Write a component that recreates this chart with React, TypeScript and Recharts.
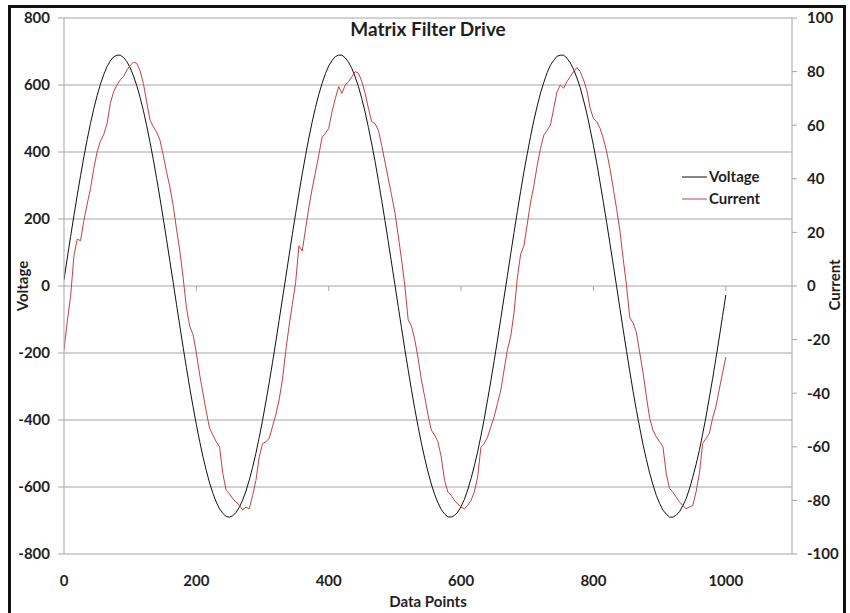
import React from 'react';
import { LineChart, Line, XAxis, YAxis, CartesianGrid, Legend, ReferenceLine } from 'recharts';

// Sampling step of the "Data Points" index
const sampleStep = 5;

// Voltage (left axis), every 5 data points
const voltageCycle1 = [
  19, 84, 148, 210, 271, 329, 385, 437, 485, 529,
  568, 602, 631, 655, 672, 684, 689, 689, 682, 670,
  651, 627, 598, 563, 523, 478, 429, 377, 321, 262,
  201, 138, 74, 10, -55, -119, -183, -244, -304, -360,
  -414, -464, -510, -551, -588, -619, -645, -665, -679, -688,
  -690, -686, -676, -660, -639, -612, -579, -541, -499, -452,
  -401, -346, -289, -229, -167, -103, -39,
];
const voltageCycle2 = [
  25, 90, 154, 216, 277, 335, 390, 442, 490, 533,
  572, 605, 634, 657, 673, 685, 689, 689, 681, 668,
  649, 624, 595, 559, 519, 473, 424, 372, 315, 256,
  195, 132, 68, 4, -61, -125, -189, -250, -310, -366,
  -419, -469, -514, -555, -591, -622, -647, -667, -680, -689,
  -690, -685, -675, -658, -637, -609, -575, -537, -495, -447,
  -396, -340, -283, -223, -161, -97, -33,
];
const voltageCycle3 = [
  31, 96, 160, 222, 283, 341, 395, 447, 495, 537,
  576, 608, 637, 659, 674, 686, 689, 689, 680, 666,
  647, 621, 592, 555, 515, 468, 419, 367, 309, 250,
  189, 126, 62, -2, -67, -131, -195, -256, -316, -372,
  -424, -474, -518, -559, -594, -625, -649, -669, -681, -690,
  -690, -684, -674, -656, -635, -606, -571, -533, -491, -442,
  -391, -334, -277, -217, -155, -91, -27,
];

// Current (right axis), every 5 data points
const currentCycle1 = [
  -24.0, -13.1, -3.8, 11.3, 17.5, 16.9, 24.4, 30.6, 36.3, 43.8,
  50.0, 54.0, 56.5, 60.6, 68.1, 72.5, 75.0, 76.9, 78.1, 80.6,
  82.3, 83.5, 83.1, 80.3, 75.5, 68.6, 61.9, 59.4, 57.5, 54.4,
  48.8, 42.5, 36.9, 30.0, 21.3, 13.1, 3.1, -8.1, -15.0, -18.1,
  -25.0, -33.1, -40.0, -46.9, -53.1, -55.6, -58.1, -60.0, -70.0, -76.3,
  -77.5, -79.4, -80.6, -81.9, -83.5, -82.5, -83.1, -78.1, -72.5, -63.8,
  -58.8, -58.1, -56.9, -52.5, -48.1, -42.5, -35.0, -24.4,
];
const currentCycle2 = [
  -15.0, -6.9, 1.3, 15.0, 13.1, 21.3, 29.4, 36.3, 42.5, 48.8,
  55.6, 56.9, 58.8, 65.0, 70.0, 74.4, 71.9, 75.0, 76.3, 78.1,
  80.0, 79.4, 76.3, 71.9, 66.3, 61.3, 60.6, 58.1, 52.5, 46.3,
  40.0, 33.8, 27.5, 18.8, 10.0, 0.0, -12.5, -15.0, -20.0, -26.9,
  -35.0, -41.3, -48.1, -53.8, -55.6, -58.1, -63.8, -72.5, -76.9, -78.1,
  -80.0, -81.3, -82.5, -83.1, -81.9, -80.0, -76.9, -71.3, -60.0, -58.8,
  -56.3, -52.5, -48.8, -43.8, -38.8, -31.3, -23.8, -18.8, -10.0, 3.1,
];
const currentCycle3 = [
  11.9, 15.0, 23.1, 31.3, 37.5, 45.0, 51.3, 56.3, 58.1, 60.0,
  66.3, 72.5, 75.0, 73.8, 76.3, 78.1, 80.0, 81.5, 80.0, 76.9,
  73.1, 66.3, 62.5, 61.3, 58.8, 55.0, 50.0, 43.8, 36.3, 28.8,
  20.6, 10.0, 0.0, -11.9, -13.8, -17.5, -25.0, -32.5, -41.3, -49.4,
  -53.8, -56.3, -58.1, -60.0, -70.0, -75.6, -76.9, -78.8, -80.6, -81.9,
  -83.1, -82.5, -81.9, -76.9, -70.0, -58.8, -56.9, -55.0, -49.4, -45.0,
  -38.8, -32.5, -26.5,
];

const voltage = [...voltageCycle1, ...voltageCycle2, ...voltageCycle3];
const current = [...currentCycle1, ...currentCycle2, ...currentCycle3];

const xTicks = [0, 200, 400, 600, 800, 1000];
const xDomain = [0, 1100];
const voltageTicks = [-800, -600, -400, -200, 0, 200, 400, 600, 800];
const currentTicks = [-100, -80, -60, -40, -20, 0, 20, 40, 60, 80, 100];
const seriesOrder = ['Voltage', 'Current'];

const title = 'Matrix Filter Drive';
const xTitle = 'Data Points';
const leftTitle = 'Voltage';
const rightTitle = 'Current';

const data = voltage.map((v, i) => ({ t: i * sampleStep, voltage: v, current: current[i] }));

const FONT = 'Lato, "Open Sans", "DejaVu Sans", sans-serif';
const TEXT = '#1f1f1f';
const AXIS = '#a6a6a6';
const GRID = '#c3c3c3';
const VOLT = '#111111';
const CURR = '#c4403d';

const tickStyle = { fontFamily: FONT, fontSize: 15, fontWeight: 700, fill: TEXT };

const renderLegend = (props: any) => {
  const payload = [...(props.payload || [])].sort(
    (a: any, b: any) => seriesOrder.indexOf(a.value) - seriesOrder.indexOf(b.value)
  );
  return (
    <svg width={100} height={46} style={{ display: 'block' }}>
      {payload.map((p: any, i: number) => (
        <g key={p.value}>
          <line x1={0} x2={25} y1={11 + i * 22} y2={11 + i * 22} stroke={p.color} strokeWidth={1} />
          <text
            x={27}
            y={11 + i * 22}
            dy="0.36em"
            fontFamily={FONT}
            fontSize={15}
            fontWeight={700}
            fill={TEXT}
          >
            {p.value}
          </text>
        </g>
      ))}
    </svg>
  );
};

export default function App() {
  return (
    <div
      style={{
        position: 'absolute',
        left: 0,
        top: 0,
        width: 850,
        height: 613,
        overflow: 'hidden',
        background: '#fff',
      }}
    >
      <div
        style={{
          position: 'absolute',
          left: 8,
          top: 5,
          width: 838,
          height: 700,
          border: '3px solid #111',
          boxSizing: 'border-box',
        }}
      />
      <div style={{ position: 'absolute', left: 0, top: 0 }}>
        <LineChart width={850} height={613} data={data} margin={{ top: 18, right: 0, bottom: 0, left: 0 }}>
          <CartesianGrid yAxisId="left" vertical={false} horizontal stroke={GRID} strokeWidth={1.5} />
          <XAxis
            dataKey="t"
            type="number"
            domain={xDomain}
            ticks={xTicks}
            height={59}
            axisLine={false}
            tickLine={false}
            tickSize={6}
            tickMargin={15}
            tick={tickStyle}
            allowDataOverflow
          />
          <YAxis
            yAxisId="left"
            orientation="left"
            width={64}
            domain={[-800, 800]}
            ticks={voltageTicks}
            axisLine={{ stroke: AXIS }}
            tickLine={{ stroke: AXIS }}
            tickSize={6}
            tickMargin={8}
            tick={tickStyle}
            allowDataOverflow
          />
          <YAxis
            yAxisId="right"
            orientation="right"
            width={58}
            domain={[-100, 100]}
            ticks={currentTicks}
            axisLine={{ stroke: AXIS }}
            tickLine={{ stroke: AXIS }}
            tickSize={5}
            tickMargin={10}
            tick={tickStyle}
            allowDataOverflow
          />
          {xTicks
            .filter((v) => v > 0)
            .map((v) => (
              <ReferenceLine
                key={`zt-${v}`}
                yAxisId="left"
                segment={[
                  { x: v, y: 0 },
                  { x: v, y: 0 },
                ]}
                shape={(p: any) => (
                  <line x1={p.x1} y1={p.y1} x2={p.x1} y2={p.y1 + 5} stroke={AXIS} strokeWidth={1} />
                )}
              />
            ))}
          <Line
            yAxisId="left"
            type="linear"
            dataKey="voltage"
            name="Voltage"
            stroke={VOLT}
            strokeWidth={1}
            dot={false}
            isAnimationActive={false}
          />
          <Line
            yAxisId="right"
            type="linear"
            dataKey="current"
            name="Current"
            stroke={CURR}
            strokeWidth={1}
            dot={false}
            isAnimationActive={false}
          />
          <Legend
            layout="vertical"
            align="center"
            verticalAlign="middle"
            content={renderLegend}
            wrapperStyle={{ left: 682, top: 166, width: 100, height: 46 }}
          />
        </LineChart>
      </div>
      <svg
        width={850}
        height={613}
        style={{ position: 'absolute', left: 0, top: 0, pointerEvents: 'none' }}
      >
        <text x={428} y={36} textAnchor="middle" fontFamily={FONT} fontSize={19} fontWeight={700} fill={TEXT}>
          {title}
        </text>
        <text x={428} y={607} textAnchor="middle" fontFamily={FONT} fontSize={15} fontWeight={700} fill={TEXT}>
          {xTitle}
        </text>
        <text
          x={27.5}
          y={286}
          textAnchor="middle"
          transform="rotate(-90 27.5 286)"
          fontFamily={FONT}
          fontSize={15}
          fontWeight={700}
          fill={TEXT}
        >
          {leftTitle}
        </text>
        <text
          x={840}
          y={285}
          textAnchor="middle"
          transform="rotate(-90 840 285)"
          fontFamily={FONT}
          fontSize={15}
          fontWeight={700}
          fill={TEXT}
        >
          {rightTitle}
        </text>
      </svg>
    </div>
  );
}
